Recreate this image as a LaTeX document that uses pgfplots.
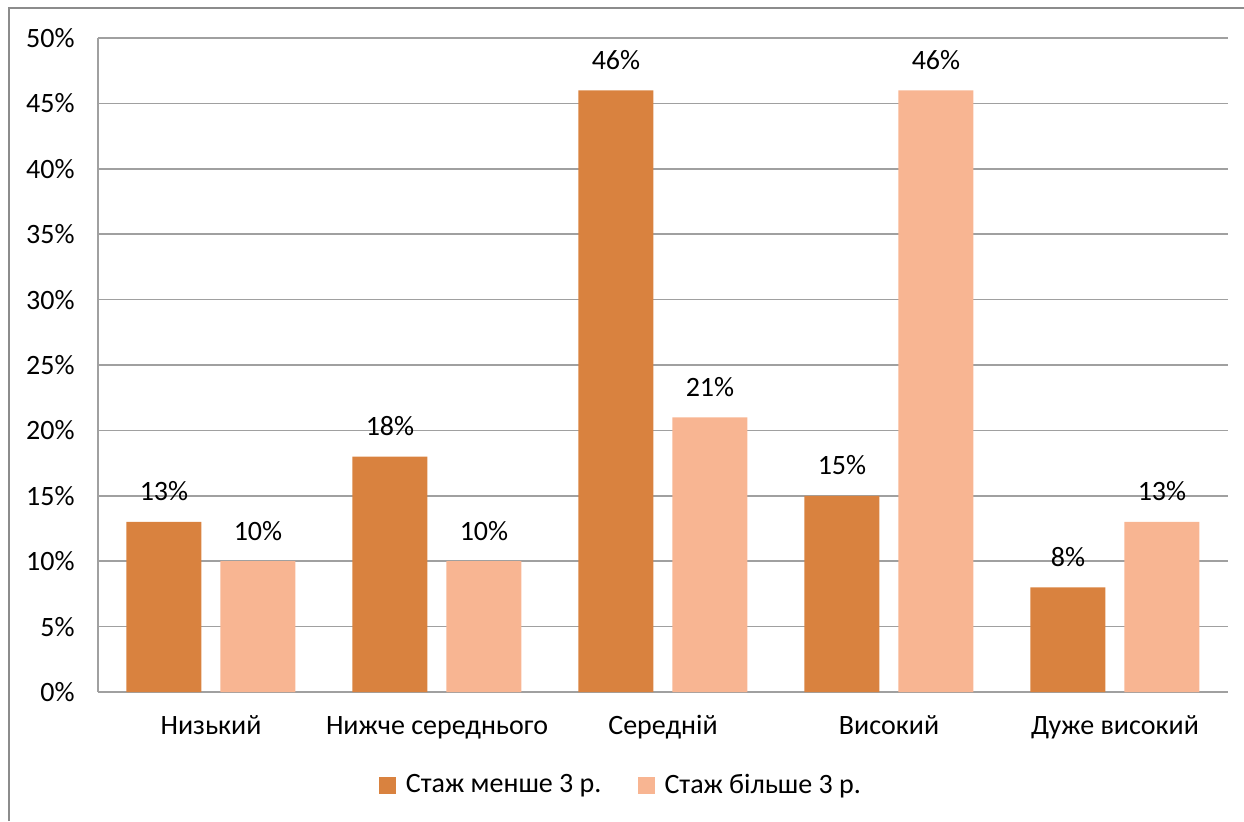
\documentclass[border=0pt]{standalone}
\usepackage{pgfplots}
\pgfplotsset{compat=1.18}
\usepackage{fontspec}
\setmainfont{Carlito}

\definecolor{darkor}{HTML}{D9823F}
\definecolor{lightor}{HTML}{F8B592}
\definecolor{gridgray}{HTML}{A0A0A0}
\definecolor{framegray}{HTML}{8C8C8C}

\begin{document}
\begin{tikzpicture}
% page size
\useasboundingbox (-49pt,-64.5pt) rectangle (573pt,346pt);
% chart frame
\draw[framegray, line width=0.8pt] (-44.5pt,-64.5pt) -- (-44.5pt,342pt) -- (573pt,342pt);
\begin{axis}[
  at={(0,0)}, anchor=south west,
  scale only axis,
  width=565pt, height=327pt,
  ybar, bar width=37.5pt,
  xmin=-0.5, xmax=4.5,
  ymin=0, ymax=50,
  xtick={0,1,2,3,4},
  xticklabels={Низький, Нижче середнього, Середній, Високий, Дуже високий},
  ytick={0,5,...,50},
  yticklabel={\pgfmathprintnumber{\tick}\%},
  /pgf/number format/assume math mode=true,
  major tick length=0pt,
  ymajorgrids,
  grid style={gridgray, line width=0.75pt},
  axis x line*=bottom, axis y line*=left,
  axis line style={gridgray, line width=0.75pt},
  tick label style={font=\fontsize{14}{16}\selectfont, text=black},
  yticklabel style={xshift=-8.2pt},
  xticklabel style={anchor=base, yshift=-21pt},
  nodes near coords={\pgfmathprintnumber{\pgfplotspointmeta}\%},
  nodes near coords style={font=\fontsize{14}{16}\selectfont, anchor=base, yshift=10.5pt, inner sep=0pt, /pgf/number format/assume math mode=true},
  legend style={at={(axis description cs:0.4637,-0.1422)}, anchor=center, draw=none, fill=none,
    legend columns=2, font=\fontsize{14}{16}\selectfont,
    /tikz/every even column/.append style={column sep=16pt}},
  legend cell align=left,
  legend image code/.code={\fill[#1] (0pt,-4.25pt) rectangle (8.5pt,4.25pt); \path (11.5pt,0pt);},
]
\addplot[fill=darkor, draw=none, bar shift=-23.5pt] coordinates {(0,13) (1,18) (2,46) (3,15) (4,8)};
\addplot[fill=lightor, draw=none, bar shift=23.5pt] coordinates {(0,10) (1,10) (2,21) (3,46) (4,13)};
\legend{Стаж менше 3 р., Стаж більше 3 р.}
\end{axis}
\end{tikzpicture}
\end{document}
